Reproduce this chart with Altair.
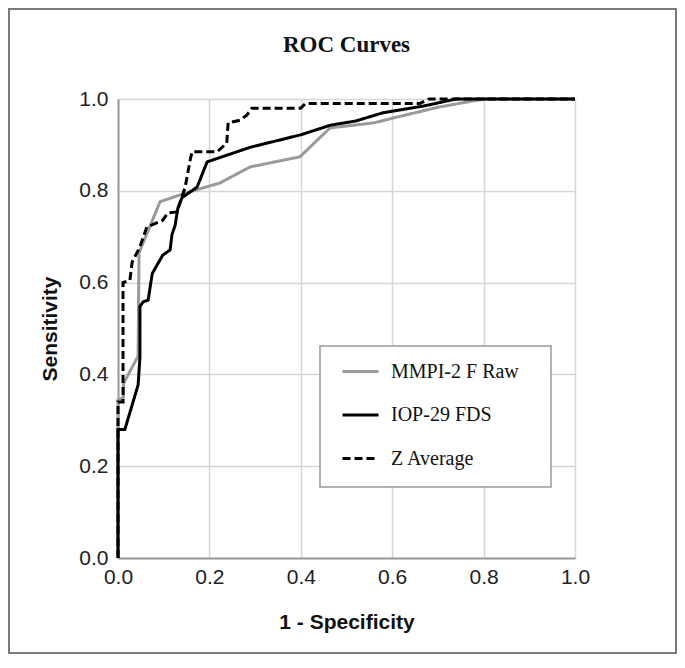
import altair as alt
import pandas as pd

series_names = ["MMPI-2 F Raw", "IOP-29 FDS", "Z Average"]

mmpi_x = [0, 0, 0.012, 0.012, 0.044, 0.046, 0.092, 0.147, 0.223, 0.289, 0.398, 0.464, 0.56, 0.60, 0.70, 0.80, 1.0]
mmpi_y = [0, 0.344, 0.35, 0.38, 0.44, 0.665, 0.776, 0.795, 0.817, 0.852, 0.874, 0.937, 0.948, 0.958, 0.982, 1.0, 1.0]

iop_x = [0, 0, 0.015, 0.044, 0.048, 0.048, 0.055, 0.066, 0.075, 0.098, 0.114, 0.118, 0.125, 0.131, 0.14,
         0.173, 0.195, 0.29, 0.40, 0.465, 0.52, 0.58, 0.67, 0.74, 1.0]
iop_y = [0, 0.28, 0.28, 0.377, 0.437, 0.548, 0.558, 0.562, 0.62, 0.66, 0.671, 0.704, 0.725, 0.762, 0.785,
         0.808, 0.863, 0.895, 0.922, 0.943, 0.952, 0.97, 0.985, 1.0, 1.0]

z_x = [0, 0, 0.011, 0.011, 0.026, 0.031, 0.048, 0.063, 0.098, 0.109, 0.129, 0.14, 0.147, 0.158, 0.162,
       0.217, 0.238, 0.241, 0.267, 0.282, 0.293, 0.40, 0.41, 0.66, 0.68, 1.0]
z_y = [0, 0.34, 0.34, 0.6, 0.605, 0.645, 0.678, 0.721, 0.736, 0.752, 0.754, 0.787, 0.808, 0.867, 0.885,
       0.885, 0.904, 0.948, 0.954, 0.965, 0.98, 0.98, 0.99, 0.99, 1.0, 1.0]

tick_values = [0.0, 0.2, 0.4, 0.6, 0.8, 1.0]
chart_title = "ROC Curves"

rows = []
for name, xs, ys in zip(series_names, [mmpi_x, iop_x, z_x], [mmpi_y, iop_y, z_y]):
    for i, (xv, yv) in enumerate(zip(xs, ys)):
        rows.append({"series": name, "fpr": xv, "tpr": yv, "i": i})
df = pd.DataFrame(rows)

W, H = 457, 459

legend = alt.Legend(
    orient="none", legendX=223, legendY=253, title=None,
    symbolType="stroke", symbolSize=1296, symbolStrokeWidth=3,
    labelFont="Liberation Serif", labelFontSize=20, labelColor="#111",
    labelOffset=11, rowPadding=13.5, padding=0,
)

lines = alt.Chart(df).mark_line(strokeWidth=3).encode(
    x=alt.X("fpr:Q", scale=alt.Scale(domain=[0, 1], nice=False),
            axis=alt.Axis(title="1 - Specificity", values=tick_values, format=".1f",
                          titleX=W / 2, titleY=64, titleAlign="center", titleBaseline="middle")),
    y=alt.Y("tpr:Q", scale=alt.Scale(domain=[0, 1], nice=False),
            axis=alt.Axis(title="Sensitivity", values=tick_values, format=".1f",
                          titleX=-68, titleY=H / 2, titleAngle=-90, titleAlign="center",
                          titleBaseline="middle")),
    color=alt.Color("series:N", sort=series_names,
                    scale=alt.Scale(domain=series_names, range=["#9a9a9a", "#000000", "#000000"]),
                    legend=legend),
    strokeDash=alt.StrokeDash("series:N", sort=series_names,
                              scale=alt.Scale(domain=series_names, range=[[1, 0], [1, 0], [8, 4]]),
                              legend=legend),
    order=alt.Order("i:Q"),
)

one = alt.Data(values=[{"k": 1}])

border = alt.Chart(one).mark_rect(filled=False, stroke="#7a7a7a", strokeWidth=2).encode(
    x=alt.value(-109), x2=alt.value(558), y=alt.value(-90), y2=alt.value(554)
)

legend_box = alt.Chart(one).mark_rect(fill="white", stroke="#999999", strokeWidth=1.5).encode(
    x=alt.value(202), x2=alt.value(433), y=alt.value(247), y2=alt.value(388)
)

title_text = alt.Chart(one).mark_text(
    font="Liberation Serif", fontSize=23, fontWeight="bold", color="#111",
    align="center", baseline="middle",
).encode(text=alt.value(chart_title), x=alt.value(W / 2), y=alt.value(-54))

chart = alt.layer(border, legend_box, title_text, lines).properties(
    width=W, height=H,
    autosize=alt.AutoSizeParams(type="none"),
    padding={"left": 110, "top": 91, "right": 102, "bottom": 96},
).configure_view(stroke=None).configure_axis(
    grid=True, gridColor="#d6d6d6", gridWidth=1.5,
    domainColor="#9a9a9a", domainWidth=2,
    ticks=False, labelFlush=False, labelOverlap=False,
    labelFont="Liberation Sans", labelFontSize=21, labelColor="#222",
    titleFont="Liberation Sans", titleFontSize=21, titleFontWeight="bold", titleColor="#111",
).configure_axisX(labelPadding=8).configure_axisY(labelPadding=10)

chart.save("out.html", embed_options={"renderer": "svg", "actions": False})
